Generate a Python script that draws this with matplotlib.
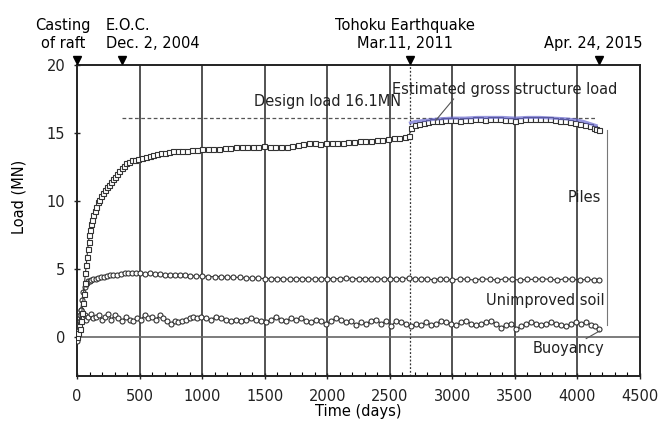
import matplotlib
matplotlib.use("Agg")
import matplotlib.pyplot as plt
from matplotlib.ticker import MultipleLocator

plt.rcParams['font.family'] = ['DejaVu Sans']

# ---- data ----
piles_days = [0, 8, 15, 22, 30, 38, 45, 52, 60, 67, 74, 80, 86, 92, 98, 105, 112, 120, 130, 140,
              152, 165, 178, 192, 206, 220, 236, 252, 268, 285, 302, 320, 338, 356, 375, 395, 415,
              440, 465, 490, 520, 550, 580, 610, 640, 670, 700, 735, 770, 805, 840, 880, 920, 960,
              1000, 1045, 1090, 1135, 1180, 1225, 1270, 1315, 1360, 1405, 1450, 1495, 1540, 1585,
              1630, 1675, 1720, 1765, 1810, 1855, 1900, 1945, 1990, 2035, 2080, 2125, 2170, 2215,
              2260, 2305, 2350, 2395, 2440, 2485, 2530, 2575, 2620, 2655, 2670, 2700, 2735, 2770,
              2805, 2840, 2875, 2910, 2945, 2980, 3020, 3060, 3100, 3140, 3180, 3220, 3260, 3300,
              3340, 3380, 3420, 3460, 3500, 3540, 3580, 3620, 3660, 3700, 3740, 3780, 3820, 3860,
              3900, 3940, 3980, 4020, 4060, 4100, 4130, 4150, 4170]
piles_load = [0.0, 0.3, 0.8, 0.6, 1.2, 1.8, 2.5, 3.2, 4.0, 4.7, 5.3, 5.9, 6.5, 7.0, 7.5, 7.9, 8.3,
              8.6, 9.0, 9.3, 9.6, 9.9, 10.1, 10.4, 10.6, 10.8, 11.0, 11.2, 11.4, 11.6, 11.8, 12.0,
              12.2, 12.4, 12.6, 12.8, 12.9, 13.0, 13.05, 13.1, 13.2, 13.25, 13.3, 13.4, 13.45, 13.5,
              13.55, 13.6, 13.65, 13.65, 13.7, 13.7, 13.75, 13.75, 13.8, 13.8, 13.85, 13.85, 13.9,
              13.9, 13.95, 13.95, 14.0, 14.0, 14.0, 14.05, 14.0, 14.0, 13.95, 14.0, 14.05, 14.1,
              14.2, 14.25, 14.25, 14.2, 14.25, 14.3, 14.3, 14.3, 14.35, 14.35, 14.4, 14.4, 14.45,
              14.5, 14.5, 14.55, 14.6, 14.65, 14.7, 14.8, 15.4, 15.6, 15.7, 15.75, 15.8, 15.85,
              15.9, 15.9, 15.95, 15.95, 15.95, 15.9, 15.95, 15.95, 16.0, 16.0, 15.95, 16.0, 16.0,
              16.0, 15.95, 15.95, 15.9, 15.95, 16.0, 16.0, 16.05, 16.05, 16.0, 16.0, 15.95, 15.9,
              15.85, 15.8, 15.75, 15.7, 15.6, 15.5, 15.4, 15.3, 15.2]

soil_days = [0, 10, 20, 30, 40, 50, 60, 70, 80, 90, 100, 115, 130, 150, 170, 190, 215, 240, 265,
             290, 320, 350, 380, 410, 440, 470, 500, 540, 580, 620, 660, 700, 740, 780, 820, 860,
             900, 950, 1000, 1050, 1100, 1150, 1200, 1250, 1300, 1350, 1400, 1450, 1500, 1550,
             1600, 1650, 1700, 1750, 1800, 1850, 1900, 1950, 2000, 2050, 2100, 2150, 2200, 2250,
             2300, 2350, 2400, 2450, 2500, 2550, 2600, 2650, 2700, 2750, 2800, 2850, 2900, 2950,
             3000, 3060, 3120, 3180, 3240, 3300, 3360, 3420, 3480, 3540, 3600, 3660, 3720, 3780,
             3840, 3900, 3960, 4020, 4080, 4130, 4170]
soil_load = [0.0, 0.5, 1.2, 2.0, 2.7, 3.3, 3.7, 3.9, 4.0, 4.1, 4.15, 4.2, 4.25, 4.3, 4.35, 4.4,
             4.45, 4.5, 4.55, 4.6, 4.6, 4.65, 4.7, 4.7, 4.7, 4.7, 4.7, 4.65, 4.7, 4.65, 4.65, 4.6,
             4.6, 4.55, 4.55, 4.55, 4.5, 4.5, 4.5, 4.45, 4.45, 4.45, 4.4, 4.4, 4.4, 4.35, 4.35,
             4.35, 4.3, 4.3, 4.3, 4.3, 4.25, 4.3, 4.3, 4.3, 4.25, 4.3, 4.3, 4.3, 4.3, 4.35, 4.3,
             4.3, 4.3, 4.3, 4.25, 4.3, 4.3, 4.3, 4.3, 4.35, 4.3, 4.25, 4.3, 4.2, 4.3, 4.25, 4.2,
             4.3, 4.25, 4.2, 4.3, 4.25, 4.2, 4.3, 4.25, 4.2, 4.25, 4.25, 4.3, 4.25, 4.2, 4.3, 4.25,
             4.2, 4.25, 4.2, 4.2]

buoy_days = [0, 8, 16, 24, 32, 40, 50, 60, 75, 90, 110, 130, 150, 175, 200, 225, 250, 275, 300,
             330, 360, 390, 420, 450, 480, 510, 540, 570, 600, 630, 660, 690, 720, 750, 780, 810,
             840, 870, 900, 930, 960, 990, 1030, 1070, 1110, 1150, 1190, 1230, 1270, 1310, 1350,
             1390, 1430, 1470, 1510, 1550, 1590, 1630, 1670, 1710, 1750, 1790, 1830, 1870, 1910,
             1950, 1990, 2030, 2070, 2110, 2150, 2190, 2230, 2270, 2310, 2350, 2390, 2430, 2470,
             2510, 2550, 2590, 2630, 2670, 2710, 2750, 2790, 2830, 2870, 2910, 2950, 2990, 3030,
             3070, 3110, 3150, 3190, 3230, 3270, 3310, 3350, 3390, 3430, 3470, 3510, 3550, 3590,
             3630, 3670, 3710, 3750, 3790, 3830, 3870, 3910, 3950, 3990, 4030, 4070, 4110, 4140,
             4170]
buoy_load = [-0.3, 0.2, 0.9, 1.6, 2.0, 1.7, 1.4, 1.6, 1.3, 1.5, 1.7, 1.4, 1.5, 1.6, 1.3, 1.5, 1.7,
             1.3, 1.6, 1.4, 1.2, 1.5, 1.3, 1.2, 1.4, 1.3, 1.6, 1.4, 1.5, 1.3, 1.6, 1.4, 1.2, 1.0,
             1.2, 1.1, 1.2, 1.3, 1.4, 1.5, 1.4, 1.5, 1.4, 1.3, 1.5, 1.4, 1.3, 1.2, 1.3, 1.2, 1.3,
             1.4, 1.3, 1.2, 1.1, 1.3, 1.5, 1.3, 1.2, 1.4, 1.3, 1.4, 1.2, 1.1, 1.3, 1.2, 1.0, 1.2,
             1.4, 1.3, 1.1, 1.2, 0.9, 1.1, 1.0, 1.2, 1.3, 1.0, 1.2, 0.8, 1.2, 1.1, 1.0, 0.8, 1.0,
             0.9, 1.1, 0.9, 1.0, 1.2, 1.1, 1.0, 0.9, 1.1, 1.2, 1.0, 0.9, 1.0, 1.1, 1.2, 1.0, 0.7,
             0.9, 1.0, 0.6, 0.8, 1.0, 1.1, 1.0, 0.9, 1.0, 1.1, 1.0, 0.9, 0.8, 1.0, 1.1, 1.0, 1.1,
             0.9, 0.8, 0.6]

est_days = [2665, 2700, 2800, 2900, 3000, 3100, 3200, 3300, 3400, 3500, 3600, 3700, 3800, 3900,
            4000, 4050, 4100, 4150]
est_load = [15.75, 15.85, 15.95, 16.05, 16.1, 16.1, 16.15, 16.15, 16.15, 16.1, 16.15, 16.15, 16.1,
            16.05, 15.95, 15.85, 15.7, 15.55]

design_load = 16.1
design_start, design_end = 360, 4150

event_days = [0, 360, 2665, 4170]
event_labels = ["Casting\nof raft", "E.O.C.\nDec. 2, 2004", "Tohoku Earthquake\nMar.11, 2011",
                "Apr. 24, 2015"]

x_ticks = [0, 500, 1000, 1500, 2000, 2500, 3000, 3500, 4000, 4500]
y_ticks = [0, 5, 10, 15, 20]

# ---- figure ----
FS = 10.5
W, H = 659, 423
fig = plt.figure(figsize=(W / 100, H / 100), dpi=100)
ax = fig.add_axes([77 / W, 1 - 376 / H, (640 - 77) / W, (376 - 65) / H])
ax.set_xlim(0, 4500)
ax.set_ylim(-2.85, 20)

grid_c = '#444444'
for xv in x_ticks[1:-1]:
    ax.axvline(xv, color=grid_c, lw=1.3, zorder=1)
ax.axhline(0, color='#666666', lw=1.2, zorder=1)
ax.axvline(event_days[2], color='#333333', lw=0.9, ls=(0, (1.5, 1.5)), zorder=1)

mk = dict(color='#333333', lw=0.8, mfc='white', mec='#333333', mew=0.8, zorder=3)
ax.plot(buoy_days, buoy_load, marker='o', ms=3.6, **mk)
ax.plot(soil_days, soil_load, marker='o', ms=3.6, **mk)
ax.plot(piles_days, piles_load, marker='s', ms=3.6, **mk)
ax.plot(est_days, est_load, color='#6a6ad0', lw=2.2, alpha=0.7, zorder=4)

ax.hlines(design_load, design_start, design_end, colors='#555555', lw=0.9,
          linestyles=(0, (3, 2)), zorder=2)

# bracket line and annotations
ax.plot([4235, 4235], [15.2, 0.9], color='#777777', lw=0.8, zorder=2)
ax.text(2000, 16.75, "Design load 16.1MN", fontsize=FS, ha='center', va='bottom', color='#222222')
ax.text(2520, 18.2, "Estimated gross structure load", fontsize=FS, ha='left', va='center',
        color='#222222')
ax.plot([3010, 2865], [17.5, 15.9], color='#555555', lw=0.8, zorder=5)
ax.text(3925, 10.3, "Piles", fontsize=FS, ha='left', va='center', color='#222222')
ax.text(4215, 2.7, "Unimproved soil", fontsize=FS, ha='right', va='center', color='#222222')
ax.text(4215, -0.85, "Buoyancy", fontsize=FS, ha='right', va='center', color='#222222')
ax.plot([4175, 4070], [0.45, -0.1], color='#555555', lw=0.8, zorder=5)

# event markers above the axes
for d in event_days:
    ax.plot(d, 20.35, marker='v', color='black', ms=6, clip_on=False, zorder=6)
ax.text(-110, 21.0, event_labels[0], fontsize=FS, ha='center', va='bottom', linespacing=1.25)
ax.text(230, 21.0, event_labels[1], fontsize=FS, ha='left', va='bottom', linespacing=1.25)
ax.text(2620, 21.0, event_labels[2], fontsize=FS, ha='center', va='bottom', linespacing=1.25)
ax.text(4130, 21.0, event_labels[3], fontsize=FS, ha='center', va='bottom')

ax.set_xticks(x_ticks)
ax.set_yticks(y_ticks)
ax.xaxis.set_minor_locator(MultipleLocator(100))
ax.tick_params(axis='both', which='major', direction='inout', length=5, width=1,
               labelsize=FS, colors='#222222')
ax.tick_params(axis='x', which='minor', direction='in', length=3, width=0.8)
ax.tick_params(axis='x', which='major', pad=7)
ax.tick_params(axis='y', which='major', pad=6)
for s in ax.spines.values():
    s.set_linewidth(1.4)
    s.set_color('#222222')

ax.set_xlabel("Time (days)", fontsize=FS, labelpad=0)
ax.set_ylabel("Load (MN)", fontsize=FS)
ax.yaxis.set_label_coords(-0.089, 0.576)

fig.savefig("out.png", dpi=100)
